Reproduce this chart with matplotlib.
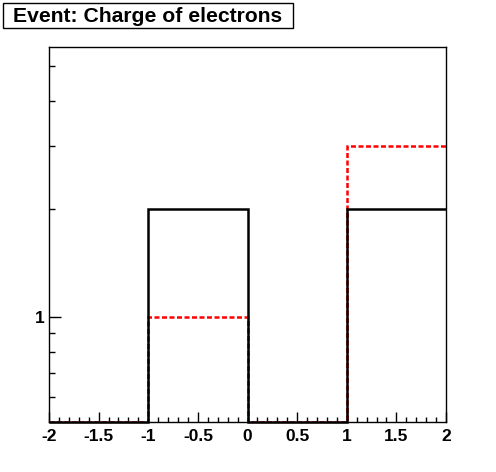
import numpy as np
import matplotlib.pyplot as plt
from matplotlib.patches import Rectangle
from matplotlib.ticker import FixedLocator, NullFormatter

plt.rcParams['font.family'] = ['Liberation Sans', 'DejaVu Sans']

# histogram data (bins of width 1 from -2 to 2)
bin_edges = [-2, -1, 0, 1, 2]
black_counts = [0, 2, 0, 2]
red_counts = [0, 1, 0, 3]
title = 'Event: Charge of electrons'

ymin, ymax = 0.51, 5.65
W, H = 496, 472

fig = plt.figure(figsize=(W / 100, H / 100), dpi=100)
ax = fig.add_axes([49 / W, 50 / H, 397 / W, 375 / H])
ax.set_yscale('log')

# empty bins sit on the bottom of the frame, as ROOT draws them
red_draw = np.where(np.array(red_counts) > 0, red_counts, ymin)
black_draw = np.where(np.array(black_counts) > 0, black_counts, ymin)

ax.stairs(red_draw, bin_edges, baseline=None, color='red', lw=1.8,
          linestyle=(0, (2.0, 1.0)), zorder=3)
ax.stairs(black_draw, bin_edges, baseline=None, color='black', lw=1.8,
          zorder=4, clip_on=False)

ax.set_xlim(-2, 2)
ax.set_ylim(ymin, ymax)

ax.set_xticks(np.arange(-2, 2.01, 0.5))
ax.set_xticklabels(['-2', '-1.5', '-1', '-0.5', '0', '0.5', '1', '1.5', '2'])
ax.xaxis.set_minor_locator(FixedLocator(np.arange(-2, 2.001, 0.1)))

ax.yaxis.set_major_locator(FixedLocator([1]))
ax.set_yticklabels(['1'])
ax.yaxis.set_minor_locator(FixedLocator([0.6, 0.7, 0.8, 0.9, 2, 3, 4, 5]))
ax.yaxis.set_minor_formatter(NullFormatter())

ax.tick_params(axis='both', which='both', direction='in', top=False, right=False,
               labelsize=12.5, width=1)
ax.tick_params(axis='x', which='major', length=7, pad=5)
ax.tick_params(axis='x', which='minor', length=3.5)
ax.tick_params(axis='y', which='major', length=8.5, pad=3)
ax.tick_params(axis='y', which='minor', length=4.5)
for lbl in ax.get_xticklabels() + ax.get_yticklabels():
    lbl.set_fontweight('bold')

for s in ax.spines.values():
    s.set_linewidth(1)

# title box
fig.patches.append(Rectangle((3 / W, 1 - 28 / H), 290 / W, 25 / H,
                             transform=fig.transFigure, facecolor='white',
                             edgecolor='black', lw=1))
fig.text(148 / W, 1 - 16 / H, title, ha='center', va='center',
         fontsize=15.2, fontweight='bold')

fig.savefig('out.png', dpi=100)
